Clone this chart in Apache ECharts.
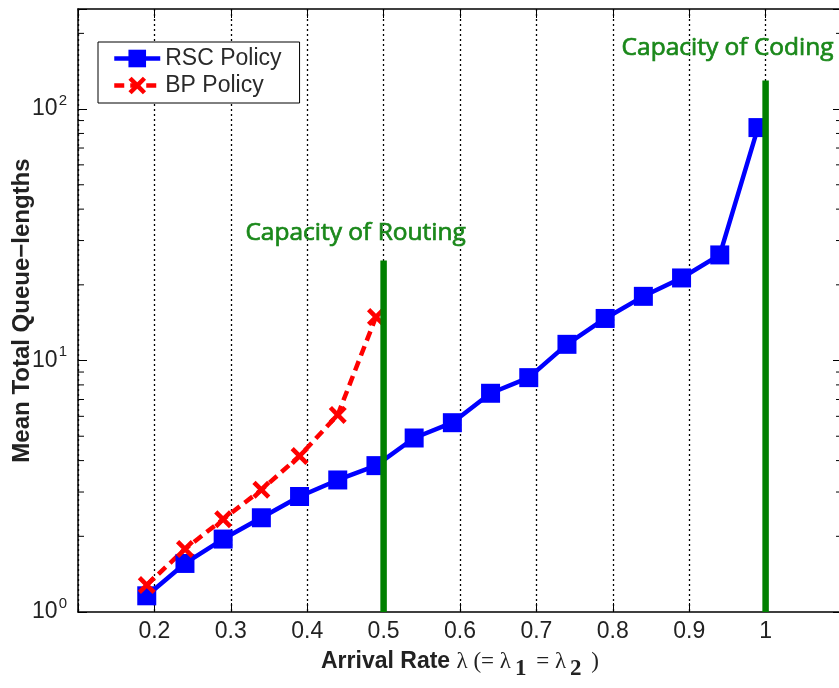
<!DOCTYPE html>
<html>
<head>
<meta charset="utf-8">
<script src="https://cdn.jsdelivr.net/npm/echarts@6/dist/echarts.min.js"></script>
<style>
  html, body { margin: 0; padding: 0; background: #fff; }
  #chart { width: 839px; height: 688px; }
</style>
</head>
<body>
<div id="chart"></div>
<script>
// Arrival rates (lambda) at which each policy was simulated
const rscRates = [0.19, 0.24, 0.29, 0.34, 0.39, 0.44, 0.49, 0.54, 0.59, 0.64, 0.69, 0.74, 0.79, 0.84, 0.89, 0.94, 0.99];
const rscQueue = [1.16, 1.56, 1.95, 2.37, 2.88, 3.35, 3.82, 4.92, 5.66, 7.41, 8.55, 11.6, 14.7, 18.0, 21.3, 26.3, 84.4];

const bpRates = [0.19, 0.24, 0.29, 0.34, 0.39, 0.44, 0.49];
const bpQueue = [1.28, 1.78, 2.34, 3.06, 4.17, 6.08, 14.9];

// Capacity boundaries: vertical bars from the bottom of the axis up to a given height
const capacityNames = ['Capacity of Routing', 'Capacity of Coding'];
const capacityRates = [0.5, 1.0];
const capacityTops = [25, 130];

// Axis ranges and tick positions
const xMin = 0.1, xMax = 1.1, xStep = 0.1;
const yMin = 1, yMax = 250;
const yMinorTicks = [2, 3, 4, 5, 6, 7, 8, 9, 20, 30, 40, 50, 60, 70, 80, 90, 200];

const SANS = "'Liberation Sans', Arial, Helvetica, sans-serif";
const SERIF = "'Liberation Serif', 'DejaVu Serif', serif";
const TEXT = '#222';

const chart = echarts.init(document.getElementById('chart'), null, { renderer: 'canvas' });

const pairs = (xs, ys) => xs.map((x, i) => [x, ys[i]]);

const xLabel = v => {
  if (Math.abs(v - xMin) < 1e-6 || Math.abs(v - xMax) < 1e-6) return '';
  return String(+v.toFixed(1));
};
const yLabel = v => {
  const e = Math.log10(v);
  if (Math.abs(e - Math.round(e)) > 1e-6) return '';
  return '{b|10}{s|' + Math.round(e) + '}';
};

const capLabelLayout = [
  { offset: [-28, 0], distance: 14 },
  { offset: [-38, 0], distance: 19 }
];

const CAP_GREEN = '#1a881a';

const capacitySeries = capacityNames.map((name, i) => ({
  name: name,
  type: 'line',
  z: 5,
  symbol: 'circle',
  symbolSize: 1,
  showSymbol: true,
  itemStyle: { color: 'rgba(0,0,0,0)' },
  lineStyle: { color: '#008000', width: 6.5 },
  label: { show: false },
  data: [
    [capacityRates[i], yMin],
    {
      value: [capacityRates[i], capacityTops[i]],
      label: {
        show: true,
        position: 'top',
        distance: capLabelLayout[i].distance,
        offset: capLabelLayout[i].offset,
        formatter: name,
        color: CAP_GREEN,
        textBorderColor: CAP_GREEN,
        textBorderWidth: 0.7,
        fontFamily: "'Open Sans', 'DejaVu Sans', sans-serif",
        fontSize: 24.5
      }
    }
  ]
}));

const crossPath = 'path://M0,1.8 L1.8,0 L5,3.2 L8.2,0 L10,1.8 L6.8,5 L10,8.2 L8.2,10 L5,6.8 L1.8,10 L0,8.2 L3.2,5 Z';

const frameAxis = {
  axisLine: { show: true, onZero: false, lineStyle: { color: '#000', width: 1.5 } },
  axisTick: { show: true, inside: true, length: 9, lineStyle: { color: '#000' } }
};

const option = {
  animation: false,
  backgroundColor: '#fff',
  grid: { left: 78, top: 9, width: 764, height: 603, containLabel: false, outerBoundsMode: 'none' },
  legend: {
    data: ['RSC Policy', 'BP Policy'],
    orient: 'vertical',
    left: 98,
    top: 42,
    padding: [5, 18, 6, 14],
    itemGap: 4,
    itemWidth: 46,
    itemHeight: 22,
    backgroundColor: '#fff',
    borderColor: '#000',
    borderWidth: 1,
    borderRadius: 0,
    lineStyle: { width: 4.5 },
    textStyle: { fontSize: 23, fontFamily: SANS, color: '#2a2a2a' }
  },
  xAxis: [
    {
      type: 'value',
      position: 'bottom',
      min: xMin, max: xMax, interval: xStep,
      ...frameAxis,
      axisLabel: { formatter: xLabel, fontSize: 23, fontFamily: SANS, color: TEXT, margin: 8 },
      splitLine: { show: true, lineStyle: { color: '#000', type: [2, 3], width: 1.3 } },
      name: '{a|Arrival Rate }{l|λ (= λ}{sub|1}{l| = λ}{sub|2}{l| )}',
      nameLocation: 'middle',
      nameGap: 30,
      nameMoveOverlap: false,
      nameTextStyle: {
        rich: {
          a: { fontSize: 23, fontWeight: 'bold', fontFamily: SANS, color: TEXT, verticalAlign: 'middle' },
          l: { fontSize: 23, fontFamily: SERIF, color: TEXT, verticalAlign: 'middle' },
          sub: { fontSize: 23, fontWeight: 'bold', fontFamily: SERIF, color: TEXT, padding: [16, 4, 0, 4], verticalAlign: 'middle' }
        }
      }
    },
    {
      type: 'value',
      position: 'top',
      min: xMin, max: xMax, interval: xStep,
      ...frameAxis,
      axisLabel: { show: false },
      splitLine: { show: false }
    }
  ],
  yAxis: [
    {
      type: 'log',
      logBase: 10,
      position: 'left',
      min: yMin, max: yMax, interval: 1,
      ...frameAxis,
      axisLabel: {
        formatter: yLabel,
        margin: 11,
        rich: {
          b: { fontSize: 23, fontFamily: SANS, color: TEXT, verticalAlign: 'middle' },
          s: { fontSize: 15, fontFamily: SANS, color: TEXT, padding: [0, 0, 17, 1], verticalAlign: 'middle' }
        }
      },
      splitLine: { show: false },
      name: 'Mean Total Queue−lengths',
      nameLocation: 'middle',
      nameGap: 44,
      nameMoveOverlap: false,
      nameTextStyle: { fontSize: 24, fontWeight: 'bold', fontFamily: SANS, color: TEXT }
    },
    {
      type: 'log',
      logBase: 10,
      position: 'right',
      min: yMin, max: yMax, interval: 1,
      ...frameAxis,
      axisLabel: { show: false },
      splitLine: { show: false }
    }
  ],
  series: [
    {
      // minor ticks of the log axis, on both left and right frame edges
      type: 'custom',
      silent: true,
      z: 3,
      xAxisIndex: 0,
      yAxisIndex: 0,
      data: yMinorTicks.map(v => [xMin, v]),
      encode: { x: 0, y: 1 },
      renderItem: (params, api) => {
        const v = api.value(1);
        const l = api.coord([xMin, v]);
        const r = api.coord([xMax, v]);
        const st = { stroke: '#000', lineWidth: 1 };
        return {
          type: 'group',
          children: [
            { type: 'line', shape: { x1: l[0], y1: l[1], x2: l[0] + 6, y2: l[1] }, style: st },
            { type: 'line', shape: { x1: r[0] - 6, y1: r[1], x2: r[0], y2: r[1] }, style: st }
          ]
        };
      }
    },
    {
      name: 'RSC Policy',
      type: 'line',
      z: 4,
      data: pairs(rscRates, rscQueue),
      symbol: 'rect',
      symbolSize: 19,
      lineStyle: { color: '#0000ff', width: 4.5 },
      itemStyle: { color: '#0000ff' }
    },
    {
      name: 'BP Policy',
      type: 'line',
      z: 4,
      data: pairs(bpRates, bpQueue),
      symbol: crossPath,
      symbolSize: 18,
      lineStyle: { color: '#ff0000', width: 4.5, type: [10, 6] },
      itemStyle: { color: '#ff0000' }
    },
    ...capacitySeries
  ]
};

chart.setOption(option);
</script>
</body>
</html>
